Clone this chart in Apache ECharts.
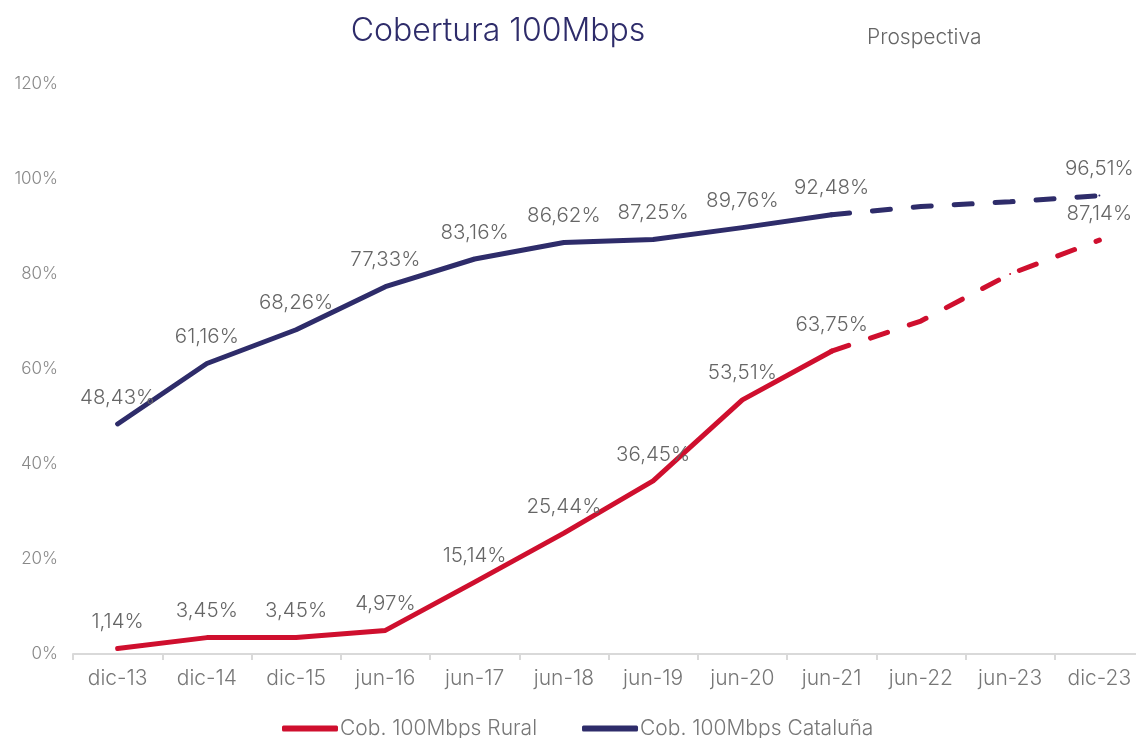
<!DOCTYPE html>
<html><head><meta charset="utf-8">
<script src="https://cdn.jsdelivr.net/npm/echarts@6/dist/echarts.min.js"></script>
<style>html,body{margin:0;padding:0;background:#fff;overflow:hidden}#c{width:1150px;height:738px}</style>
</head><body><div id="c"></div>
<script>
const categories = ['dic-13','dic-14','dic-15','jun-16','jun-17','jun-18','jun-19','jun-20','jun-21','jun-22','jun-23','dic-23'];
const ruralActual = [1.14, 3.45, 3.45, 4.97, 15.14, 25.44, 36.45, 53.51, 63.75, null, null, null];
const ruralForecast = [null, null, null, null, null, null, null, null, 63.75, 70.1, 80.0, 87.14];
const catActual = [48.43, 61.16, 68.26, 77.33, 83.16, 86.62, 87.25, 89.76, 92.48, null, null, null];
const catForecast = [null, null, null, null, null, null, null, null, 92.48, 94.2, 95.2, 96.51];
const yTicks = [0, 20, 40, 60, 80, 100, 120];

const RED = '#CF0F2E', NAVY = '#2E2C6A', FONT = 'Inter', FW = 300;
const fmt = v => v.toFixed(2).replace('.', ',') + '%';
const lbl = { show: true, position: 'top', distance: 15, color: '#666', fontSize: 20.5, fontFamily: FONT, fontWeight: FW,
  formatter: p => p.value == null ? '' : fmt(p.value) };
const lastOnly = Object.assign({}, lbl, { formatter: p => p.dataIndex === categories.length - 1 ? fmt(p.value) : '' });

const chart = echarts.init(document.getElementById('c'));
chart.setOption({
  animation: false,
  title: [
    { text: 'Cobertura 100Mbps', left: 493, top: 10, textAlign: 'center',
      textStyle: { color: NAVY, fontSize: 32, fontWeight: FW, fontFamily: FONT } },
    { text: 'Prospectiva', left: 862, top: 22,
      textStyle: { color: '#666', fontSize: 21, fontWeight: FW, fontFamily: FONT } }
  ],
  grid: { left: 73, top: 84, width: 1071, height: 570, containLabel: false },
  legend: {
    data: ['Cob. 100Mbps Rural', 'Cob. 100Mbps Cataluña'],
    top: 713, left: 277, itemWidth: 56, itemHeight: 6, itemGap: 45,
    icon: 'roundRect',
    textStyle: { color: '#777', fontSize: 21, fontFamily: FONT, fontWeight: FW, padding: [0, 0, 0, -3] }
  },
  xAxis: {
    type: 'category', data: categories, boundaryGap: true,
    axisLine: { lineStyle: { color: '#D9D9D9', width: 2 } },
    axisTick: { show: true, length: 6, lineStyle: { color: '#D9D9D9', width: 2 } },
    axisLabel: { color: '#777', fontSize: 21, fontFamily: FONT, fontWeight: FW, margin: 14 }
  },
  yAxis: {
    type: 'value', min: 0, max: 120, interval: 20,
    axisLine: { show: false }, axisTick: { show: false }, splitLine: { show: false },
    axisLabel: { color: '#888', fontSize: 17, fontFamily: FONT, fontWeight: FW, margin: 15,
      formatter: v => yTicks.includes(v) ? v + '%' : '' }
  },
  series: [
    { name: 'Cob. 100Mbps Rural', type: 'line', data: ruralActual, color: RED,
      symbol: 'circle', symbolSize: 2, lineStyle: { width: 5, color: RED, cap: 'round', join: 'round' },
      itemStyle: { color: RED }, label: lbl, z: 3 },
    { name: 'Cob. 100Mbps Cataluña', type: 'line', data: catActual, color: NAVY,
      symbol: 'circle', symbolSize: 2, lineStyle: { width: 5, color: NAVY, cap: 'round', join: 'round' },
      itemStyle: { color: NAVY }, label: lbl, z: 3 },
    { name: 'Rural prospectiva', type: 'line', data: ruralForecast, color: RED,
      symbol: 'circle', symbolSize: 2, lineStyle: { width: 5, color: RED, type: [18, 23], cap: 'round' },
      itemStyle: { color: RED }, label: lastOnly, z: 2 },
    { name: 'Cataluña prospectiva', type: 'line', data: catForecast, color: NAVY,
      symbol: 'circle', symbolSize: 2, lineStyle: { width: 5, color: NAVY, type: [18, 23], cap: 'round' },
      itemStyle: { color: NAVY }, label: lastOnly, z: 2 }
  ]
});
</script></body></html>
